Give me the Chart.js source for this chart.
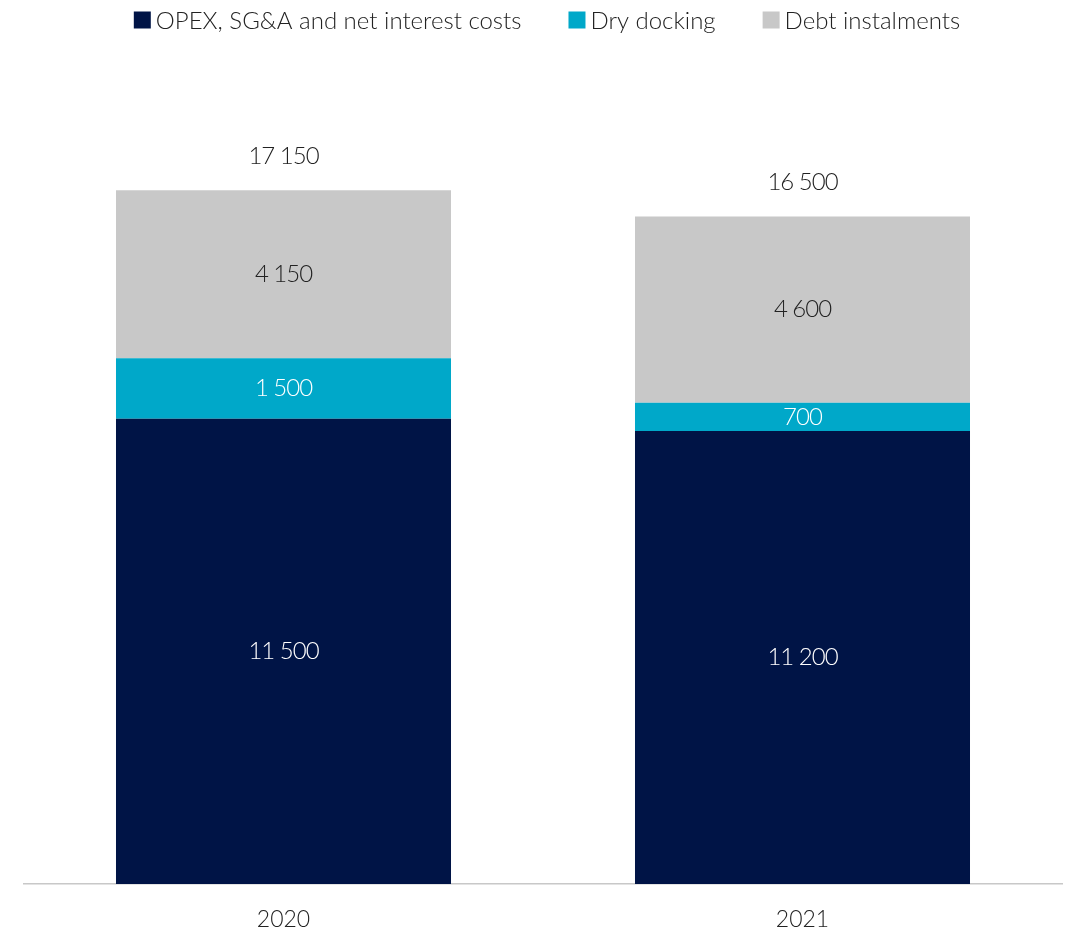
<!DOCTYPE html>
<html>
<head>
<meta charset="utf-8">
<script src="https://cdn.jsdelivr.net/npm/chart.js@4.4.1/dist/chart.umd.min.js"></script>
<style>
  html, body { margin: 0; padding: 0; background: #ffffff; }
  #wrap { width: 1066px; height: 934px; position: relative; }
</style>
</head>
<body>
<div id="wrap"><canvas id="chart" width="1066" height="934"></canvas></div>
<script>
// Cost breakdown per year (USD thousands)
const years = ['2020', '2021'];
const opexSgaInterest = [11500, 11200];
const dryDocking = [1500, 700];
const debtInstalments = [4150, 4600];
const seriesNames = ['OPEX, SG&A and net interest costs', 'Dry docking', 'Debt instalments'];
const seriesColors = ['#001446', '#00A8C9', '#C8C8C8'];
const labelColors = ['#ffffff', '#ffffff', '#222222'];

const FONT = 'Lato, "Source Sans Pro", "Open Sans", sans-serif';
const TEXT = '#222222';

function fmt(v) {
  return String(v).replace(/\B(?=(\d{3})+(?!\d))/g, ' ');
}

// Value labels inside each segment, plus the stack total above each bar
const stackLabels = {
  id: 'stackLabels',
  afterDatasetsDraw(chart) {
    const ctx = chart.ctx;
    ctx.save();
    ctx.font = '300 24px ' + FONT;
    if ('letterSpacing' in ctx) ctx.letterSpacing = '-1px';
    ctx.textAlign = 'center';
    ctx.textBaseline = 'middle';
    const n = chart.data.datasets.length;
    chart.data.datasets.forEach((ds, i) => {
      const meta = chart.getDatasetMeta(i);
      meta.data.forEach((el, j) => {
        ctx.fillStyle = labelColors[i];
        ctx.fillText(fmt(ds.data[j]), el.x, (el.y + el.base) / 2);
      });
    });
    const top = chart.getDatasetMeta(n - 1);
    top.data.forEach((el, j) => {
      let total = 0;
      chart.data.datasets.forEach(ds => { total += ds.data[j]; });
      ctx.fillStyle = TEXT;
      ctx.fillText(fmt(total), el.x, el.y - 34);
    });
    ctx.restore();
  }
};

// Single-row legend with square swatches across the top
const topLegend = {
  id: 'topLegend',
  afterDraw(chart) {
    const ctx = chart.ctx;
    const box = 17, gapText = 5, gapItem = 47;
    ctx.save();
    ctx.font = '300 24px ' + FONT;
    ctx.textBaseline = 'middle';
    ctx.textAlign = 'left';
    const widths = seriesNames.map(s => ctx.measureText(s).width);
    let total = 0;
    widths.forEach((w, i) => { total += box + gapText + w + (i < widths.length - 1 ? gapItem : 0); });
    const cx = (chart.chartArea.left + chart.chartArea.right) / 2 + 4;
    let x = cx - total / 2;
    const yc = 20;
    seriesNames.forEach((s, i) => {
      ctx.fillStyle = seriesColors[i];
      ctx.fillRect(x, yc - box / 2, box, box);
      x += box + gapText;
      ctx.fillStyle = TEXT;
      ctx.fillText(s, x, yc + 1);
      x += widths[i] + gapItem;
    });
    ctx.restore();
  }
};

const data = {
  labels: years,
  datasets: [opexSgaInterest, dryDocking, debtInstalments].map((vals, i) => ({
    label: seriesNames[i],
    data: vals,
    backgroundColor: seriesColors[i],
    borderWidth: 0,
    categoryPercentage: 1,
    barPercentage: 0.6455
  }))
};

new Chart(document.getElementById('chart'), {
  type: 'bar',
  data,
  options: {
    responsive: false,
    devicePixelRatio: 1,
    animation: false,
    layout: { padding: { top: 75, left: 24, right: 4, bottom: 0 } },
    plugins: {
      legend: { display: false },
      tooltip: { enabled: false }
    },
    scales: {
      x: {
        stacked: true,
        grid: { display: false, drawTicks: false },
        border: { display: true, color: '#c8c8c8', width: 1.5 },
        ticks: {
          color: TEXT,
          padding: 22,
          font: { family: FONT, size: 23, weight: '300' }
        },
        afterFit(scale) { scale.height = 50; }
      },
      y: {
        stacked: true,
        display: false,
        min: 0,
        max: 20000
      }
    }
  },
  plugins: [stackLabels, topLegend]
});
</script>
</body>
</html>
